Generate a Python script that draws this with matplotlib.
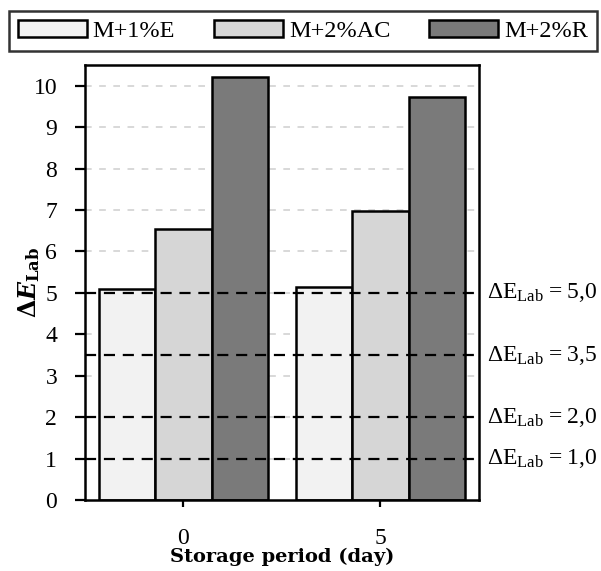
import numpy as np
import matplotlib
matplotlib.use('Agg')
from matplotlib import pyplot as plt

plt.rcParams['font.family'] = ['Liberation Serif', 'DejaVu Serif']
plt.rcParams['mathtext.fontset'] = 'custom'
plt.rcParams['mathtext.rm'] = 'Liberation Serif'
plt.rcParams['mathtext.it'] = 'DejaVu Serif:italic:bold'
plt.rcParams['mathtext.bf'] = 'DejaVu Serif:bold'

# 储存天数与各配方的色差
days = ['0', '5']
series = ['M+1%E', 'M+2%AC', 'M+2%R']
e_1 = [5.10, 5.15]
ac_2 = [6.55, 6.98]
r_2 = [10.22, 9.74]
colors = ['#f2f2f2', '#d6d6d6', '#7a7a7a']
# 参考线
ref_levels = [5.0, 3.5, 2.0, 1.0]
ref_labels = ['5,0', '3,5', '2,0', '1,0']

fig = plt.figure(figsize=(6.01, 5.71), dpi=100)
ax = fig.add_axes([0.1414, 0.1243, 0.6556, 0.7618])

x = np.arange(len(days))
w = 0.286
for i, (vals, c, name) in enumerate(zip([e_1, ac_2, r_2], colors, series)):
    ax.bar(x + (i - 1) * w, vals, w, color=c, edgecolor='black',
           linewidth=1.8, label=name, zorder=2)

# 浅色网格
for yv in range(1, 11):
    ax.axhline(yv, color='#d2d2d2', linestyle=(0, (4, 4.5)), linewidth=1.2, zorder=1)

# 参考线和右侧标注
for lv, lb in zip(ref_levels, ref_labels):
    ax.axhline(lv, color='black', linestyle=(0, (5, 3.5)), linewidth=1.6, zorder=3)
    ax.text(1.54, lv, r'$\mathrm{\Delta E}_{\mathrm{Lab}}\mathrm{=}' + lb.replace(',', '{,}') + '$',
            fontsize=17, va='center', ha='left', clip_on=False)

ax.set_xlim(-0.5, 1.5)
ax.set_ylim(0, 10.5)
ax.set_yticks(range(0, 11))
ax.set_xticks(x)
ax.set_xticklabels(days)
ax.tick_params(axis='y', direction='out', length=7, width=1.6, labelsize=17, pad=13)
ax.tick_params(axis='x', direction='out', length=5, width=1.6, labelsize=17, pad=15)
for s in ax.spines.values():
    s.set_linewidth(1.8)

ax.set_xlabel('Storage period (day)', fontsize=14, fontweight='bold', family='DejaVu Serif')
ax.xaxis.set_label_coords(0.5, -0.11)
ax.set_ylabel(r'$\mathbf{Δ}E_{\mathbf{Lab}}$', fontsize=17)
ax.yaxis.set_label_coords(-0.11, 0.5)

leg = fig.legend(loc='center', bbox_to_anchor=(303 / 601, 1 - 31 / 571),
                 ncol=3, fontsize=17.5, handlelength=2.84, handleheight=0.7,
                 handletextpad=0.25, columnspacing=1.6, borderpad=0.37,
                 fancybox=False, edgecolor='black')
leg.get_frame().set_linewidth(1.8)

fig.savefig('out.png', dpi=100)
